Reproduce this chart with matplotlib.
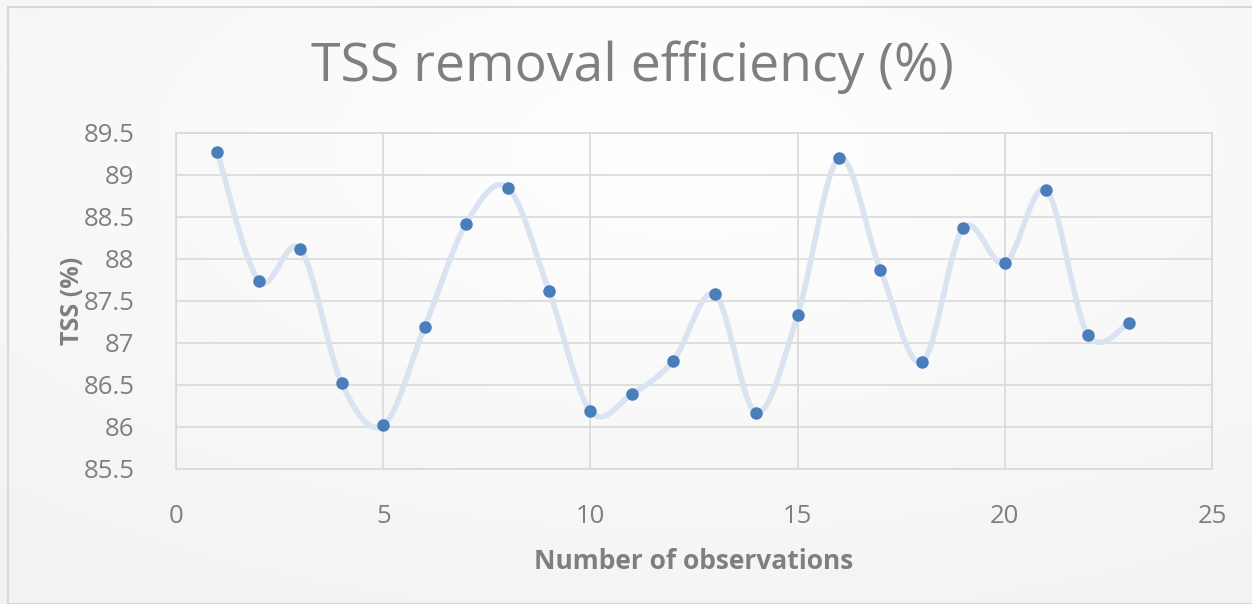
import numpy as np
import matplotlib
matplotlib.use("Agg")
import matplotlib.pyplot as plt
from matplotlib.patches import Rectangle

observations = list(range(1, 24))
tss = [89.27, 87.74, 88.12, 86.52, 86.02, 87.19, 88.42, 88.85, 87.62, 86.19,
       86.39, 86.79, 87.58, 86.17, 87.33, 89.20, 87.87, 86.77, 88.37, 87.95,
       88.82, 87.10, 87.24]
title = "TSS removal efficiency (%)"
xlabel = "Number of observations"
ylabel = "TSS (%)"

plt.rcParams['font.family'] = ['Open Sans', 'DejaVu Sans']

def smooth(x, y, n=30):
    x = np.asarray(x, float); y = np.asarray(y, float)
    xs, ys = [], []
    N = len(x)
    for i in range(N - 1):
        p0 = np.array([x[max(i - 1, 0)], y[max(i - 1, 0)]])
        p1 = np.array([x[i], y[i]])
        p2 = np.array([x[i + 1], y[i + 1]])
        p3 = np.array([x[min(i + 2, N - 1)], y[min(i + 2, N - 1)]])
        c1 = p1 + (p2 - p0) / 6
        c2 = p2 - (p3 - p1) / 6
        t = np.linspace(0, 1, n)[:, None]
        pts = ((1 - t) ** 3) * p1 + 3 * ((1 - t) ** 2) * t * c1 + 3 * (1 - t) * t ** 2 * c2 + t ** 3 * p2
        xs.extend(pts[:, 0]); ys.extend(pts[:, 1])
    return np.array(xs), np.array(ys)

fig = plt.figure(figsize=(12.52, 6.04), dpi=100)
bgax = fig.add_axes([0, 0, 1, 1], zorder=-10)
xx, yy = np.meshgrid(np.linspace(0, 1, 256), np.linspace(0, 1, 256))
val = 0.95 + 0.05 * np.clip(1 - np.hypot(xx - 0.55, yy - 0.75) / 0.9, 0, 1)
bgax.imshow(np.dstack([val, val, val]), extent=[0, 1, 0, 1], aspect='auto', origin='lower')
bgax.add_patch(Rectangle((8 / 1252, 0), 1.0, 1 - 7 / 604, fill=False, edgecolor='#d9d9d9', lw=1.5))
bgax.set_xlim(0, 1); bgax.set_ylim(0, 1)
bgax.axis('off')

ax = fig.add_axes([176 / 1252, 1 - 469 / 604, (1212 - 176) / 1252, (469 - 133) / 604])
ax.patch.set_alpha(0)
sx, sy = smooth(observations, tss)
ax.plot(sx, sy, color='#dae3f1', lw=4, solid_capstyle='round', zorder=2)
ax.plot(observations, tss, 'o', color='#4a7ebb', ms=8, zorder=3)

ax.set_xlim(0, 25)
ax.set_ylim(85.5, 89.5)
ax.set_xticks(np.arange(0, 26, 5))
ax.set_yticks(np.arange(85.5, 89.51, 0.5))
ax.set_yticklabels([f"{v:g}" for v in np.arange(85.5, 89.51, 0.5)])
ax.grid(True, color='#d9d9d9', lw=1.2)
ax.set_axisbelow(True)
for s in ax.spines.values():
    s.set_color('#d9d9d9'); s.set_linewidth(1.2)
ax.tick_params(length=0, labelsize=18.5, colors='#7f7f7f')
ax.tick_params(axis='y', pad=30)
ax.tick_params(axis='x', pad=25)
ax.set_xlabel(xlabel, fontsize=19, fontweight='bold', color='#7f7f7f', labelpad=14)
ax.set_ylabel(ylabel, fontsize=18, fontweight='bold', color='#7f7f7f')
ax.yaxis.set_label_coords((85 - 176) / 1036, 0.5)
fig.text(0.505, 1 - 67 / 604, title, ha='center', va='center', fontsize=38.5, color='#7f7f7f')
fig.savefig("out.png", dpi=100)
